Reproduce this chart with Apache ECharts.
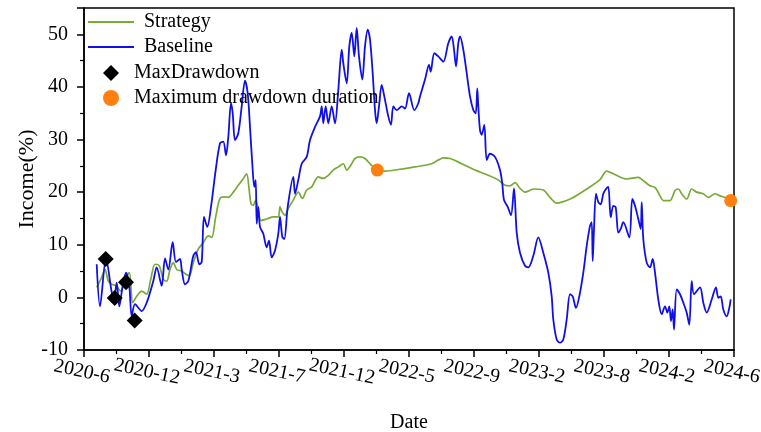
<!DOCTYPE html>
<html>
<head>
<meta charset="utf-8">
<script src="https://cdn.jsdelivr.net/npm/echarts@6/dist/echarts.min.js"></script>
<style>
  html, body { margin: 0; padding: 0; background: #fff; }
  #chart { width: 761px; height: 432px; }
</style>
</head>
<body>
<div id="chart"></div>
<script>
// Sequential time index along the x axis (0 .. 650), labelled every 65 steps
const xTickLabels = ['2020-6', '2020-12', '2021-3', '2021-7', '2021-12', '2022-5',
  '2022-9', '2023-2', '2023-8', '2024-2', '2024-6'];

// Baseline income (%)
const baseT = [12.7, 16, 22, 27.7, 30, 32.7, 35.3, 38.7, 42, 45.3, 47.7, 51, 57.7, 62.7, 69.3, 72.7,
  77.7, 81, 84.3, 88.7, 92, 96, 97.7, 101, 104.3, 109.3, 112, 115.3, 117.7, 120, 123.3, 127,
  131.7, 136, 139.3, 142, 144.3, 147, 148.7, 151, 154.3, 157.7, 161, 163.7, 166, 168.3, 170.3,
  171.7, 172.7, 174.3, 176, 179.3, 182.7, 185, 187.7, 191, 194.3, 196, 198.3, 200.3, 203.7,
  209.3, 211, 214.3, 217.7, 222.7, 226, 231, 236, 237.7, 239.3, 241.7, 244.3, 247.7, 251,
  254.3, 257.7, 259.3, 262.7, 265.3, 267.7, 270.3, 272.7, 275, 278.3, 281, 283.7, 286, 288.7,
  291, 292.7, 295, 297.7, 300.3, 304.3, 307, 309.3, 312.7, 317.7, 321, 325, 330.3, 334.3, 336,
  341, 345, 346.7, 350.3, 354.3, 359.3, 364.3, 367.7, 370, 372, 374.3, 376, 379.3, 382.7, 386,
  389.3, 391.7, 393.3, 394.3, 396, 397.7, 400.3, 402.7, 406, 411, 416, 418.3, 420, 423.7, 427,
  430, 432.7, 436, 441, 444.3, 449.3, 454.3, 459.3, 464.3, 467.7, 469.3, 472.7, 476, 479.3,
  482.7, 486, 488.7, 492, 495.3, 499.3, 502.7, 506, 507.7, 508.7, 510, 512, 514.3, 516.7,
  519.3, 522, 524.3, 526.7, 529.3, 531.7, 534.3, 536.7, 539.3, 545.3, 548.3, 551, 554.3,
  556.7, 557.7, 559.3, 562.7, 566, 568.7, 571, 574.3, 577.7, 581, 583.3, 585.3, 587, 588.7,
  590, 592.7, 596, 599.3, 602.7, 605.3, 607.7, 610, 616, 619.3, 622.7, 627.7, 632, 634.3,
  636.7, 639.3, 642.7, 645.3, 646.7];
const baseVal = [6.3, -1.7, 7.4, 1.0, -0.4, 2.8, -1.7, 2.2, 4.7, 2.2, -3.6, -1.3, -2.6, -1.0, 3.1, 5.7,
  2.2, 7.4, 5.3, 10.5, 6.7, 7.3, 5.3, 2.5, 3.1, 7.9, 8.6, 6.3, 6.7, 15.3, 13.4, 17.2,
  24.2, 29.3, 29.6, 27, 30.5, 36.9, 35, 29.9, 31.2, 36.3, 41.2, 38.8, 32.4, 25.4, 21,
  22.3, 14, 17.2, 13.4, 12.1, 9.5, 10.8, 7.6, 8.9, 12.1, 15.3, 11.5, 11.1, 17.2,
  22.9, 19.7, 22.3, 25.4, 26.7, 29.9, 32.4, 34.4, 36.3, 33.1, 36.3, 33.1, 36.3, 33.1,
  39.4, 47.1, 44.5, 40.7, 47.7, 50.3, 45.8, 51.2, 45.8, 41.4, 47.7, 50.9, 49, 42.6,
  35.6, 33.1, 36.3, 40.4, 38.2, 34.4, 32.8, 36.3, 35.6, 36.3, 35.9, 38.8, 35.6, 36.9, 38.2,
  41.4, 44.2, 42.9, 46.4, 45.8, 44.8, 48.3, 49.6, 47.1, 43.9, 48.3, 49.6, 47.1, 42.6, 38.2,
  35.6, 35, 39.7, 36.3, 31.8, 30.9, 32.8, 26.1, 27.3, 26.7, 24.2, 21.6, 18.5, 17.2, 15.6,
  20.7, 12.3, 8.5, 6, 5.7, 7.9, 11.4, 8.5, 4.7, 0.2, -4.2, -8, -8.6, -8,
  -4.2, 0.6, 0.2, -2, 0.2, 4.7, 9.8, 13.6, 14.3, 6.9, 13, 19.7, 18.1, 17.7,
  19.7, 20.6, 21, 15.2, 17.4, 17.1, 12.3, 13, 14.3, 11.4, 18.7, 17.4, 14.9,
  13, 18.1, 11.1, 6.6, 5.7, 7.3, 4.7, -0.4, -3.2, -1.7, -2.9, -1.7, -4.5, -2.3,
  -6.1, 1.5, 0.6, -1, -2.9, -5.2, 3.1, 0.6, 1.9, -1, -2.9, -0.4, 1.9, -0.1,
  0.2, -2.3, -3.6, -2, -0.4];

// Strategy income (%)
const stratT = [12.7, 17.7, 21, 24.3, 27.7, 32, 36.7, 41, 45.3, 48.7, 52.7, 57.7, 62.7, 66.7, 71, 75.3,
  79.3, 82.7, 86, 89.3, 92.7, 97.7, 102, 105.3, 109.3, 114.3, 119.3, 124.3, 127.7, 131.7, 136,
  141, 144.3, 149.3, 154.3, 159.3, 162.7, 165, 167, 169.3, 171.7, 174.3, 177, 182.7, 189.3,
  194.3, 196, 198.3, 201, 204.3, 209.3, 214.3, 218.3, 222.7, 227.7, 234.3, 239.3, 244.3,
  249.3, 254.3, 259.3, 262.7, 267.7, 271, 276, 281, 286, 291, 293.7, 301, 314.3, 331, 347.7,
  354.3, 359.3, 366, 377.7, 391, 404.3, 414.3, 421, 426, 431, 436, 441, 449.3, 459.3, 466,
  472.7, 477.7, 489.3, 502.7, 516, 522.7, 529.3, 542.7, 554.3, 559.3, 566, 571, 576, 579.3,
  586, 591, 594.3, 597.7, 602.7, 607.7, 612.7, 619.3, 624.3, 631, 636, 641, 646];
const stratVal = [1.9, 3.8, 5.3, 3.1, 2.5, 2.2, 1.2, 3.4, 4.7, -1, 0.2, 1.2, 0.6, 3.4, 6.3, 6,
  3.4, 3.1, 5.3, 6.6, 5.3, 5, 4.4, 4.1, 6.6, 9.2, 10.4, 11.7, 11.4, 15.3, 18.8,
  19.1, 19, 20, 21.3, 22.6, 23.5, 20.7, 17.8, 17.5, 18.5, 16.5, 14.6, 14.9, 15.3,
  15.3, 17.2, 16.2, 15.6, 16.9, 18.5, 20, 18.8, 20.4, 21, 22.9, 22.6, 23.2,
  24.2, 24.8, 25.4, 24.2, 25.4, 26.4, 26.7, 26.4, 25.4, 24.5, 24.2, 24, 24.3, 24.8, 25.4,
  26.1, 26.5, 26.4, 25.4, 24.2, 23.2, 22.3, 21.3, 21.2, 21.8, 20.7, 20, 20.6, 20.4, 19,
  17.9, 18.1, 19, 20.6, 22.4, 24, 23.5, 22.5, 22.8, 22.2, 21.2, 20.9, 19.3, 18.4,
  18.4, 20.3, 20.6, 19.7, 18.7, 20.6, 20, 19.7, 19, 19.7, 19.3, 19, 18.4];

// Maximum drawdown points
const ddT = [21.7, 30.7, 42, 50.7];
const ddVal = [7.3, -0.1, 2.9, -4.4];

// Start and end of the maximum drawdown duration
const durT = [293.3, 646.7];
const durVal = [24.2, 18.4];

const zip = (t, v) => t.map((x, i) => [x, v[i]]);

const FONT = 'Liberation Serif, Times New Roman, serif';
const BLUE = '#1010e6';
const GREEN = '#78aa38';
const ORANGE = '#ff800e';

const chart = echarts.init(document.getElementById('chart'), null, { renderer: 'canvas' });

const legendText = { fontFamily: FONT, fontSize: 20, color: '#000' };

chart.setOption({
  animation: false,
  backgroundColor: '#fff',
  textStyle: { fontFamily: FONT, color: '#000' },
  grid: {
    left: 84, right: 27, top: 8, bottom: 82,
    outerBoundsMode: 'none', containLabel: false,
    show: true, borderColor: '#000', borderWidth: 1.5, backgroundColor: 'transparent'
  },
  legend: [
    {
      data: [{ name: 'Strategy', icon: 'rect' }, { name: 'Baseline', icon: 'rect' }],
      orient: 'vertical', left: 83, top: 7, padding: 5,
      itemWidth: 46, itemHeight: 1.8, itemGap: 5,
      textStyle: Object.assign({ padding: [0, 0, 0, 5] }, legendText),
      selectedMode: false
    },
    {
      data: [{ name: 'MaxDrawdown', icon: 'diamond' }, { name: 'Maximum drawdown duration', icon: 'circle' }],
      orient: 'vertical', left: 98, top: 58, padding: 5,
      itemWidth: 16, itemHeight: 16, itemGap: 5,
      textStyle: Object.assign({ padding: [0, 0, 0, 10] }, legendText),
      selectedMode: false
    }
  ],
  xAxis: {
    type: 'value', min: 0, max: 650, interval: 65,
    name: 'Date', nameLocation: 'middle', nameGap: 63,
    nameTextStyle: { fontFamily: FONT, fontSize: 20, color: '#000' },
    axisLine: { show: true, onZero: false, lineStyle: { color: '#000', width: 1.5 } },
    axisTick: { show: true, inside: false, length: 7, lineStyle: { color: '#000', width: 1.5 } },
    minorTick: { show: true, splitNumber: 2, length: 4, lineStyle: { color: '#000', width: 1.2 } },
    splitLine: { show: false },
    axisLabel: {
      fontFamily: FONT, fontSize: 20, color: '#000', rotate: -12,
      align: 'center', verticalAlign: 'top', margin: 12,
      formatter: v => xTickLabels[Math.round(v / 65)] || ''
    }
  },
  yAxis: {
    type: 'value', min: -10, max: 55, interval: 10,
    name: 'Income(%)', nameLocation: 'middle', nameGap: 46, nameMoveOverlap: false,
    nameTextStyle: { fontFamily: FONT, fontSize: 22, color: '#000' },
    axisLine: { show: true, onZero: false, lineStyle: { color: '#000', width: 1.5 } },
    axisTick: { show: true, inside: false, length: 7, lineStyle: { color: '#000', width: 1.5 } },
    minorTick: { show: true, splitNumber: 2, length: 4, lineStyle: { color: '#000', width: 1.2 } },
    splitLine: { show: false },
    axisLabel: {
      fontFamily: FONT, fontSize: 20, color: '#000', margin: 16,
      showMaxLabel: false,
      formatter: v => (v > 50 ? '' : String(v))
    }
  },
  series: [
    {
      name: 'Strategy', type: 'line', data: zip(stratT, stratVal),
      smooth: 0.3, symbol: 'none', showSymbol: false,
      lineStyle: { color: GREEN, width: 1.7 }, itemStyle: { color: GREEN }, z: 2
    },
    {
      name: 'Baseline', type: 'line', data: zip(baseT, baseVal),
      smooth: 0.3, symbol: 'none', showSymbol: false,
      lineStyle: { color: BLUE, width: 1.8 }, itemStyle: { color: BLUE }, z: 3
    },
    {
      name: 'MaxDrawdown', type: 'scatter', data: zip(ddT, ddVal),
      symbol: 'diamond', symbolSize: 16,
      itemStyle: { color: '#000', opacity: 1 }, z: 5
    },
    {
      name: 'Maximum drawdown duration', type: 'scatter', data: zip(durT, durVal),
      symbol: 'circle', symbolSize: 13,
      itemStyle: { color: ORANGE, opacity: 1 }, z: 5
    }
  ]
});
</script>
</body>
</html>
